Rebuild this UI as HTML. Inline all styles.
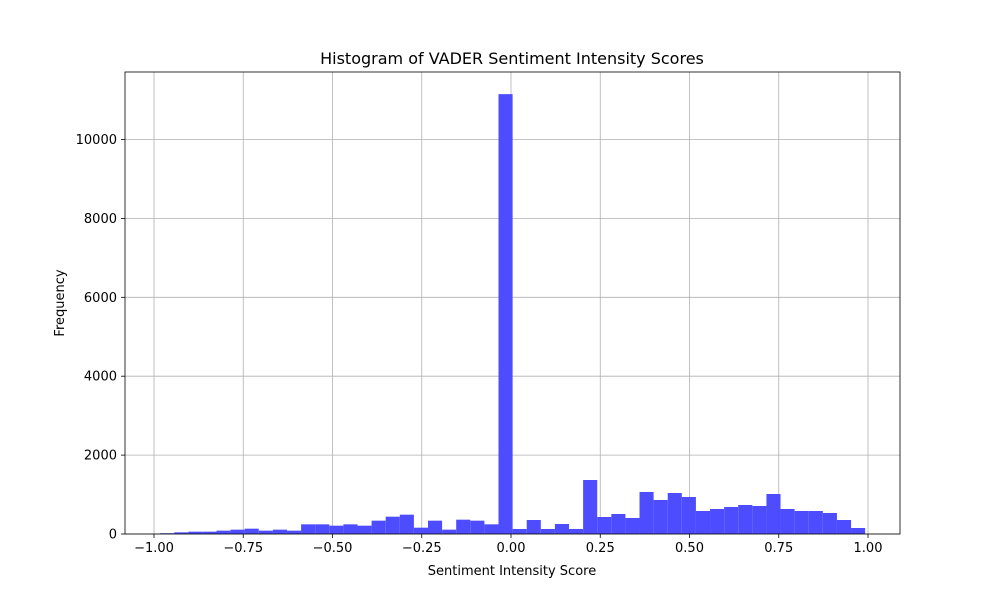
<!DOCTYPE html>
<html><head><meta charset="utf-8"><style>
body{margin:0;background:#fff;}
svg{display:block;font-family:"DejaVu Sans","Liberation Sans",sans-serif;}
</style></head><body>
<svg id="chart" width="1000" height="600"></svg>
<script>
const binStart = -0.983;
const binEnd = 0.992;
const counts = [20,42,59,59,85,110,135,85,110,85,245,245,211,245,211,338,439,490,160,338,110,363,338,245,11150,
127,355,127,253,127,1369,431,507,406,1065,862,1039,938,583,634,684,735,710,1014,634,583,583,532,355,152];
const xTicks = [-1,-0.75,-0.5,-0.25,0,0.25,0.5,0.75,1];
const xTickLabels = ["\u22121.00","\u22120.75","\u22120.50","\u22120.25","0.00","0.25","0.50","0.75","1.00"];
const yTicks = [0,2000,4000,6000,8000,10000];

const NS="http://www.w3.org/2000/svg";
const svg=document.getElementById('chart');
const L=125,R=900,T=72,B=534;
const X=v=>154+(v+1)*357;
const Y=v=>B-v*0.03945;
function mk(tag,attrs,parent){const e=document.createElementNS(NS,tag);for(const k in attrs)e.setAttribute(k,attrs[k]);(parent||svg).appendChild(e);return e;}

const grid=mk('g',{});


xTicks.forEach(t=>{const l=mk('line',{x1:X(t),x2:X(t),y1:T,y2:B,stroke:'#b0b0b0','stroke-width':0.8},grid);

});
yTicks.forEach(t=>{const l=mk('line',{x1:L,x2:R,y1:Y(t),y2:Y(t),stroke:'#b0b0b0','stroke-width':0.8},grid);

});

const bars=mk('g',{});


const w=(binEnd-binStart)/counts.length;
counts.forEach((c,i)=>{const x0=X(binStart+i*w),x1=X(binStart+(i+1)*w);
const r=mk('rect',{x:x0,y:Y(c),width:x1-x0,height:B-Y(c),fill:'#4d4dff'},bars);

});

const frame=mk('rect',{x:L,y:T,width:R-L,height:B-T,fill:'none',stroke:'#000','stroke-width':0.8});



xTicks.forEach((t,i)=>{mk('line',{x1:X(t),x2:X(t),y1:B,y2:B+4,stroke:'#000','stroke-width':0.8});
const tx=mk('text',{x:X(t),y:B+18,'text-anchor':'middle','font-size':13});
tx.textContent=xTickLabels[i];

});
yTicks.forEach(t=>{mk('line',{x1:L-4,x2:L,y1:Y(t),y2:Y(t),stroke:'#000','stroke-width':0.8});
const tx=mk('text',{x:L-8,y:Y(t)+4.5,'text-anchor':'end','font-size':13});
tx.textContent=String(t);

});

const title=mk('text',{x:512,y:64,'text-anchor':'middle','font-size':16});
title.textContent='Histogram of VADER Sentiment Intensity Scores';


const xl=mk('text',{x:512,y:575,'text-anchor':'middle','font-size':13});
xl.textContent='Sentiment Intensity Score';


const yl=mk('text',{x:64,y:303,'text-anchor':'middle','font-size':13,transform:'rotate(-90 64 303)'});
yl.textContent='Frequency';


</script>
</body></html>
